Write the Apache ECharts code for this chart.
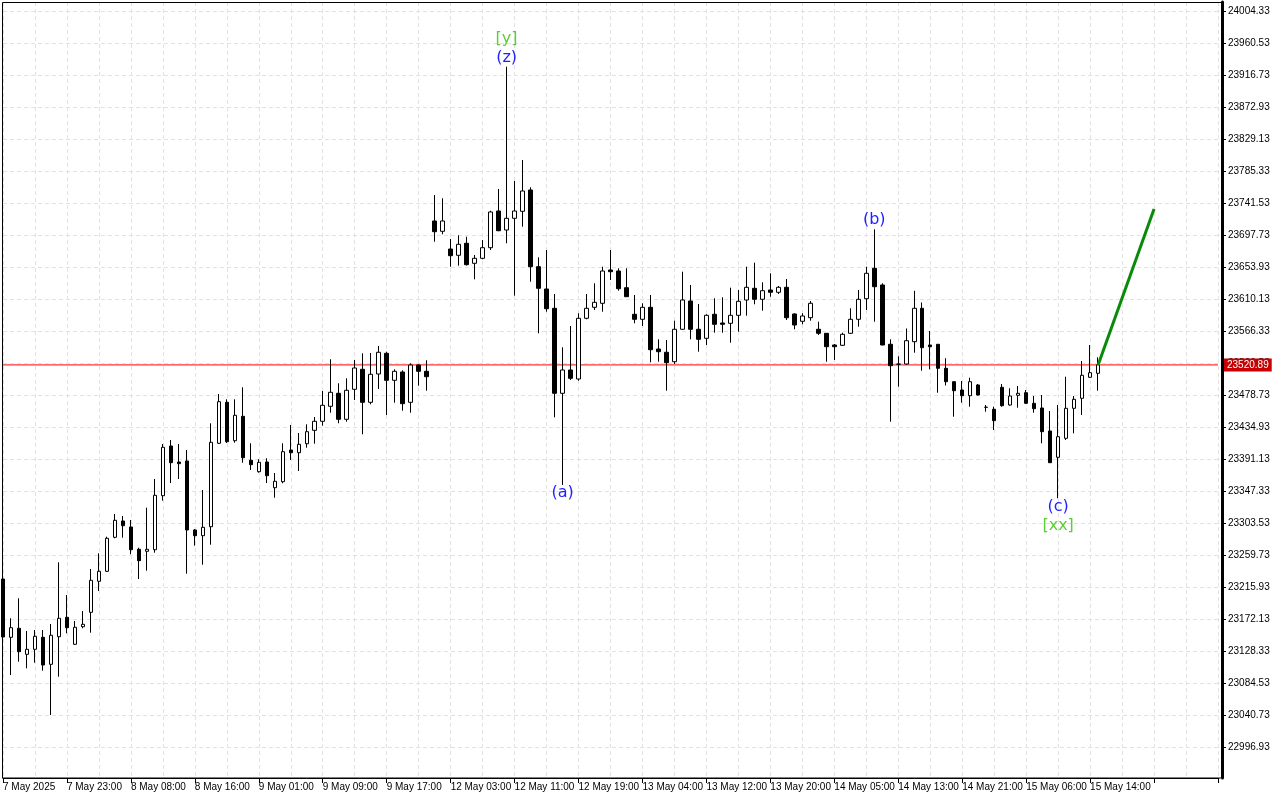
<!DOCTYPE html>
<html>
<head>
<meta charset="utf-8">
<title>Candles H1</title>
<script src="https://cdn.jsdelivr.net/npm/echarts@6/dist/echarts.min.js"></script>
<style>
  html, body { margin: 0; padding: 0; background: #fff; }
  #chart { width: 1280px; height: 800px; }
</style>
</head>
<body>
<div id="chart"></div>
<script>
// H1 bars, one per slot
const opens = [
  23227.86, 23148.07, 23160.39, 23124.80, 23131.64, 23148.07, 23111.11, 23148.89, 23175.44, 23138.49,
  23162.58, 23182.28, 23224.71, 23238.40, 23284.94, 23307.25, 23299.04, 23268.51, 23265.78, 23267.97,
  23341.88, 23409.90, 23388.00, 23389.37, 23294.93, 23287.13, 23299.45, 23413.60, 23469.71, 23417.15,
  23450.55, 23390.33, 23374.72, 23388.00, 23352.82, 23361.04, 23404.42, 23400.73, 23413.05, 23431.39,
  23443.71, 23464.24, 23482.03, 23446.44, 23487.50, 23514.88, 23469.71, 23508.45, 23536.78, 23499.82,
  23511.18, 23469.71, 23520.76, 23512.14, 23717.86, 23703.76, 23679.53, 23670.91, 23687.34, 23659.96,
  23666.80, 23681.31, 23731.54, 23705.54, 23721.55, 23731.13, 23760.29, 23655.31, 23624.79, 23598.37,
  23482.03, 23513.92, 23501.60, 23584.68, 23599.74, 23605.21, 23650.79, 23649.42, 23626.56, 23590.16,
  23583.31, 23599.74, 23542.66, 23538.15, 23525.28, 23569.63, 23608.36, 23569.63, 23557.31, 23590.16,
  23578.25, 23577.84, 23588.79, 23609.73, 23625.74, 23610.69, 23623.42, 23620.27, 23627.11, 23590.57,
  23580.58, 23585.50, 23569.63, 23564.15, 23548.14, 23547.73, 23564.15, 23583.31, 23611.51, 23653.12,
  23630.26, 23549.10, 23521.72, 23522.13, 23552.66, 23598.37, 23548.14, 23549.10, 23516.25, 23497.91,
  23486.55, 23478.75, 23493.39, 23462.87, 23460.13, 23490.24, 23466.02, 23479.29, 23482.85, 23468.34,
  23461.91, 23430.43, 23394.43, 23420.44, 23461.50, 23475.19, 23503.93, 23509.41
];
const closes = [
  23148.48, 23161.21, 23128.36, 23131.64, 23149.44, 23110.15, 23150.81, 23174.07, 23161.21, 23161.75,
  23165.86, 23226.08, 23238.40, 23283.57, 23308.20, 23300.81, 23267.97, 23252.91, 23268.51, 23342.42,
  23408.12, 23387.04, 23385.67, 23294.93, 23287.13, 23298.62, 23414.96, 23470.53, 23415.78, 23451.92,
  23393.89, 23384.31, 23387.59, 23369.25, 23361.58, 23402.10, 23400.73, 23412.23, 23429.47, 23443.71,
  23465.61, 23483.40, 23446.44, 23486.14, 23516.66, 23469.71, 23508.04, 23538.15, 23499.82, 23512.14,
  23467.80, 23520.76, 23512.14, 23504.75, 23703.21, 23717.86, 23670.36, 23685.97, 23658.05, 23666.80,
  23681.31, 23730.18, 23704.58, 23721.55, 23731.54, 23758.92, 23655.31, 23625.74, 23597.82, 23482.03,
  23513.92, 23502.56, 23584.68, 23598.37, 23606.58, 23649.42, 23648.46, 23625.20, 23614.25, 23583.31,
  23599.74, 23541.71, 23538.97, 23523.91, 23569.63, 23609.73, 23569.63, 23555.94, 23588.79, 23576.47,
  23576.47, 23588.79, 23607.95, 23627.11, 23610.69, 23622.46, 23620.27, 23627.11, 23585.50, 23575.51,
  23587.83, 23605.21, 23564.15, 23545.82, 23545.82, 23562.78, 23583.31, 23610.69, 23646.27, 23627.93,
  23548.14, 23519.81, 23522.13, 23554.02, 23598.37, 23544.44, 23545.82, 23516.25, 23497.91, 23485.59,
  23478.75, 23497.91, 23479.70, 23463.00, 23444.53, 23465.06, 23478.33, 23482.03, 23468.34, 23460.95,
  23429.47, 23387.04, 23422.63, 23461.50, 23473.82, 23506.67, 23510.23, 23520.89
];
const lows = [
  23144.37, 23096.47, 23114.67, 23105.64, 23113.30, 23102.35, 23041.72, 23094.14, 23153.54, 23137.53,
  23160.39, 23154.36, 23211.44, 23237.44, 23283.57, 23284.39, 23261.67, 23227.86, 23239.22, 23263.86,
  23335.03, 23359.26, 23364.73, 23235.12, 23273.44, 23247.44, 23274.81, 23412.64, 23414.01, 23414.42,
  23387.04, 23377.05, 23373.36, 23359.26, 23339.14, 23358.85, 23390.74, 23375.68, 23407.57, 23413.05,
  23437.68, 23455.48, 23440.97, 23443.16, 23472.86, 23425.91, 23466.97, 23487.92, 23452.33, 23469.16,
  23458.22, 23455.48, 23492.43, 23485.59, 23689.53, 23699.65, 23655.31, 23656.68, 23656.95, 23638.06,
  23665.44, 23678.16, 23703.90, 23687.34, 23615.62, 23710.06, 23634.78, 23564.15, 23593.72, 23449.18,
  23356.52, 23500.23, 23499.28, 23583.31, 23596.04, 23593.72, 23637.10, 23622.46, 23613.84, 23577.84,
  23574.14, 23524.46, 23525.28, 23485.59, 23522.13, 23568.67, 23555.94, 23538.97, 23548.14, 23564.97,
  23564.97, 23551.29, 23566.35, 23588.24, 23603.84, 23595.08, 23614.25, 23617.94, 23582.36, 23569.63,
  23576.47, 23581.40, 23561.83, 23525.28, 23527.61, 23546.77, 23563.19, 23573.19, 23596.04, 23580.03,
  23547.73, 23443.16, 23491.06, 23521.45, 23537.60, 23512.96, 23514.88, 23482.85, 23492.71, 23450.00,
  23469.16, 23463.69, 23479.02, 23456.85, 23431.80, 23463.69, 23465.06, 23462.32, 23467.39, 23455.48,
  23413.60, 23386.63, 23338.32, 23418.11, 23427.28, 23452.33, 23502.97, 23485.59
];
const highs = [
  23230.60, 23174.07, 23201.45, 23156.69, 23158.06, 23158.06, 23166.27, 23250.72, 23205.96, 23170.38,
  23184.06, 23241.55, 23263.04, 23285.76, 23316.83, 23314.09, 23308.62, 23270.70, 23325.45, 23364.73,
  23412.64, 23418.11, 23412.64, 23404.42, 23296.30, 23349.68, 23440.97, 23481.07, 23473.82, 23473.82,
  23490.24, 23413.60, 23391.70, 23393.06, 23372.94, 23413.60, 23438.64, 23427.69, 23439.60, 23449.59,
  23485.18, 23528.57, 23495.72, 23502.56, 23527.61, 23536.78, 23537.19, 23546.77, 23538.97, 23514.88,
  23513.51, 23523.09, 23521.72, 23527.20, 23753.44, 23748.93, 23693.22, 23698.29, 23696.37, 23671.32,
  23691.85, 23731.95, 23761.66, 23929.05, 23772.61, 23801.35, 23763.98, 23668.17, 23678.16, 23617.94,
  23544.99, 23574.14, 23591.53, 23617.94, 23632.59, 23655.31, 23678.16, 23653.12, 23653.12, 23616.57,
  23605.21, 23616.57, 23555.94, 23554.98, 23581.40, 23648.46, 23630.26, 23604.26, 23590.16, 23612.06,
  23613.43, 23626.56, 23623.42, 23655.31, 23660.78, 23633.96, 23646.27, 23628.89, 23638.47, 23591.53,
  23591.53, 23608.36, 23580.03, 23564.56, 23549.51, 23564.97, 23598.37, 23623.42, 23655.31, 23706.50,
  23632.59, 23555.94, 23532.67, 23570.72, 23622.32, 23606.31, 23567.30, 23549.51, 23529.93, 23498.18,
  23498.87, 23503.38, 23494.76, 23466.02, 23463.69, 23494.76, 23488.87, 23492.02, 23486.55, 23478.33,
  23479.70, 23457.80, 23466.02, 23504.75, 23478.33, 23526.24, 23548.14, 23531.30
];

// time labels, one every 8 bars
const timeLabels = [
  "7 May 2025", "7 May 23:00", "8 May 08:00", "8 May 16:00", "9 May 01:00", "9 May 09:00",
  "9 May 17:00", "12 May 03:00", "12 May 11:00", "12 May 19:00", "13 May 04:00", "13 May 12:00",
  "13 May 20:00", "14 May 05:00", "14 May 13:00", "14 May 21:00", "15 May 06:00", "15 May 14:00"
];
const slotCount = 153;

const priceTicks = [
  22996.93, 23040.73, 23084.53, 23128.33, 23172.13, 23215.93, 23259.73, 23303.53,
  23347.33, 23391.13, 23434.93, 23478.73, 23522.53, 23566.33, 23610.13, 23653.93,
  23697.73, 23741.53, 23785.33, 23829.13, 23872.93, 23916.73, 23960.53, 24004.33
];
const currentPrice = 23520.89;

// wave marks
const waveText = ["[y]", "(z)", "(a)", "(b)", "(c)", "[xx]"];
const waveBar = [63, 63, 70, 109, 132, 132];
const wavePrice = [23966.96, 23940.96, 23345.57, 23719.23, 23326.41, 23300.40];

// projected move
const forecastBar = [137, 144];
const forecastPrice = [23520.89, 23734.3];

let categories = [];
for (let i = 0; i < slotCount; i++) {
  categories.push(i % 8 === 0 && timeLabels[i / 8] ? timeLabels[i / 8] : "");
}
let candles = opens.map((o, i) => [o, closes[i], lows[i], highs[i]]);
let forecast = forecastBar.map((b, i) => [b, forecastPrice[i]]);
let priceLine = [[0, currentPrice], [slotCount - 1, currentPrice]];
let waveMarks = waveText.map((t, i) => ({
  coord: [waveBar[i], wavePrice[i]],
  label: { formatter: t, color: t[0] === "[" ? "#5fcc3a" : "#2222ff" },
}));

let myChart = echarts.init(document.getElementById("chart"));
const axisFont = "'Liberation Sans', Arial, sans-serif";

myChart.setOption({
  animation: false,
  backgroundColor: "#fff",
  grid: { left: 2, right: 62, top: 2, bottom: 22 },
  xAxis: {
    type: "category",
    data: categories,
    boundaryGap: false,
    axisLine: { lineStyle: { color: "#000", width: 1 } },
    axisTick: { interval: 7, length: 5, lineStyle: { color: "#000" } },
    axisLabel: {
      interval: 7,
      align: "left",
      margin: 4,
      color: "#000",
      fontSize: 10,
      fontFamily: axisFont,
    },
    splitLine: {
      show: true,
      interval: 3,
      lineStyle: { color: "#e2e2e2", type: [4, 3] },
    },
  },
  yAxis: {
    type: "value",
    position: "right",
    offset: 4,
    min: 22955.49,
    max: 24017.6,
    axisLine: { show: true, lineStyle: { color: "#000", width: 3 } },
    axisTick: { show: true, customValues: priceTicks, length: 4, lineStyle: { color: "#000" } },
    axisLabel: {
      customValues: priceTicks,
      formatter: (v) => v.toFixed(2),
      color: "#000",
      fontSize: 10,
      fontFamily: axisFont,
      margin: 6,
    },
    splitLine: { show: true, lineStyle: { color: "#e2e2e2", type: [4, 3] } },
  },
  graphic: [
    {
      type: "rect",
      silent: true,
      z: 1,
      shape: { x: 2.5, y: 2.5, width: 1219, height: 775.5 },
      style: { fill: "none", stroke: "#000", lineWidth: 1 },
    },
  ],
  series: [
    {
      // current bid line
      name: "bid",
      type: "line",
      data: priceLine,
      showSymbol: false,
      silent: true,
      z: 1,
      lineStyle: { color: "#ff0000", width: 1 },
      endLabel: {
        show: true,
        distance: 6,
        formatter: () => currentPrice.toFixed(2),
        color: "#fff",
        backgroundColor: "#c80000",
        padding: [2, 3, 1, 3],
        fontSize: 10,
        fontFamily: axisFont,
      },
    },
    {
      name: "price",
      type: "candlestick",
      data: candles,
      barWidth: 4,
      z: 3,
      itemStyle: {
        color: "#fff",
        color0: "#000",
        borderColor: "#000",
        borderColor0: "#000",
        borderWidth: 1,
      },
      markPoint: {
        silent: true,
        symbol: "circle",
        symbolSize: 1,
        itemStyle: { color: "rgba(0,0,0,0)" },
        label: {
          show: true,
          position: "inside",
          fontSize: 16,
          fontFamily: "'DejaVu Sans', sans-serif",
        },
        data: waveMarks,
      },
    },
    {
      name: "forecast",
      type: "line",
      data: forecast,
      showSymbol: false,
      z: 5,
      lineStyle: { color: "#0a8a0a", width: 3 },
    },
  ],
});

window.addEventListener("resize", () => {
  myChart.resize();
});
</script>
</body>
</html>
